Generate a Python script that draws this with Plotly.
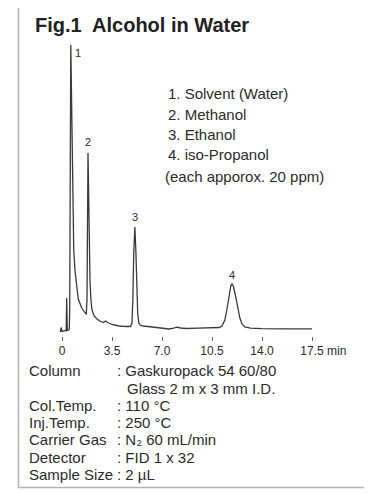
import plotly.graph_objects as go

# ---------------- data ----------------
time_min = [-0.12, -0.06, 0.00, 0.15, 0.29, 0.33, 0.37, 0.45, 0.51, 0.54, 0.57, 0.60, 0.615,
            0.65, 0.70, 0.75, 0.82, 0.91, 0.98, 1.14, 1.38, 1.60, 1.70, 1.75, 1.78, 1.82,
            1.86, 1.91, 1.96, 2.03, 2.10, 2.25, 2.45, 2.70, 2.90, 3.05, 3.20, 3.50, 4.00,
            4.50, 4.80, 4.90, 4.96, 5.02, 5.10, 5.17, 5.23, 5.30, 5.38, 5.50, 5.70, 6.00,
            6.50, 7.00, 7.50, 7.80, 8.05, 8.30, 8.70, 9.50, 10.50, 11.00, 11.20, 11.40,
            11.55, 11.70, 11.82, 11.90, 12.00, 12.15, 12.30, 12.45, 12.60, 12.80, 13.20,
            14.00, 15.50, 17.50]
signal = [-3, 1.5, -2.5, -2, -1.5, 31, -1.5, -1, 0, 20, 150, 268, 284,
          250, 189, 122, 80, 58, 48, 30, 21, 16, 14.5, 30, 120, 176,
          140, 80, 48, 28, 19, 13, 10, 7.5, 6.5, 8, 6.5, 4.5, 3,
          2.5, 2.5, 6, 30, 75, 102, 78, 42, 16, 6, 3.5, 3, 2.5,
          1.5, 0.5, 0, 0.8, 1.8, 1, 0.5, 0.8, 1, 1.5, 3, 9,
          20, 35, 43.5, 45, 42.5, 33, 21, 11, 5, 2, 0.8,
          0.3, 0.2, 0.2]

tick_vals = [0, 3.5, 7.0, 10.5, 14.0, 17.5]
tick_text = ["0", "3.5", "7.0", "10.5", "14.0", "17.5"]
axis_unit = "min"

peak_numbers = ["1", "2", "3", "4"]
peak_times = [0.615, 1.82, 5.10, 11.90]
peak_heights = [284, 176, 102, 45]

title_text = "Fig.1  Alcohol in Water"
legend_lines = ["1. Solvent (Water)", "2. Methanol", "3. Ethanol", "4. iso-Propanol",
                "(each apporox. 20 ppm)"]
cond_labels = ["Column", "", "Col.Temp.", "Inj.Temp.", "Carrier Gas", "Detector", "Sample Size"]
cond_values = [": Gaskuropack 54 60/80", "Glass 2 m x 3 mm I.D.", ": 110 °C", ": 250 °C",
               ": N₂ 60 mL/min", ": FID 1 x 32", ": 2 µL"]

# ---------------- layout geometry (screen pixels) ----------------
OFF = 8  # page body margin
W, H = 372 - OFF, 494 - OFF
L, R, T, B = 58, 316, 40, 336  # plot area in screen pixels


def px(x):
    return (x - L) / (R - L)


def py(y):
    return (B - y) / (B - T)


FONT = "Liberation Sans, Arial, sans-serif"
TXT = "#2b2b2b"

fig = go.Figure()
fig.add_trace(go.Scatter(x=time_min, y=signal, mode="lines",
                         line=dict(color="#3a3a3a", width=1.3), hoverinfo="skip"))

ann = []
ann.append(dict(text="<b>" + title_text + "</b>", x=px(33), y=py(25), xref="paper", yref="paper",
                xanchor="left", yanchor="middle", showarrow=False,
                font=dict(family=FONT, size=20, color="#222")))
leg_y = [93, 114, 134, 154, 176]
leg_x = [166, 166, 166, 166, 163]
for t, xx, yy in zip(legend_lines, leg_x, leg_y):
    ann.append(dict(text=t, x=px(xx), y=py(yy), xref="paper", yref="paper",
                    xanchor="left", yanchor="middle", showarrow=False,
                    font=dict(family=FONT, size=15, color=TXT)))
shifts = [(7, -8), (0, 11), (0, 10), (0, 9)]
for n, tt, hh, (dx, dy) in zip(peak_numbers, peak_times, peak_heights, shifts):
    ann.append(dict(text=n, x=tt, y=hh, xref="x", yref="y", xshift=dx, yshift=dy,
                    xanchor="center", yanchor="middle",
                    showarrow=False, font=dict(family=FONT, size=11, color=TXT)))
ann.append(dict(text=axis_unit, x=px(325), y=py(351), xref="paper", yref="paper",
                xanchor="left", yanchor="middle", showarrow=False,
                font=dict(family=FONT, size=12, color=TXT)))
row_y = [370, 388, 405, 422, 439, 457, 474]
for lab, val, yy in zip(cond_labels, cond_values, row_y):
    if lab:
        ann.append(dict(text=lab, x=px(27), y=py(yy), xref="paper", yref="paper",
                        xanchor="left", yanchor="middle", showarrow=False,
                        font=dict(family=FONT, size=15, color=TXT)))
    vx = 114.5 if val.startswith(":") else 125
    ann.append(dict(text=val, x=px(vx), y=py(yy), xref="paper", yref="paper",
                    xanchor="left", yanchor="middle", showarrow=False,
                    font=dict(family=FONT, size=15, color=TXT)))

shapes = [dict(type="rect", xref="paper", yref="paper", x0=px(18.5), x1=px(365.5),
               y0=py(487.5), y1=py(3.5), line=dict(color="#b4b4b4", width=1.5),
               fillcolor="rgba(0,0,0,0)", layer="below")]

xr0 = (L - 62) / (250 / 17.5)
xr1 = (R - 62) / (250 / 17.5)

fig.update_layout(
    width=W, height=H,
    margin=dict(l=L - OFF, r=W - (R - OFF), t=T - OFF, b=H - (B - OFF), pad=0),
    paper_bgcolor="white", plot_bgcolor="white", showlegend=False,
    annotations=ann, shapes=shapes,
    xaxis=dict(range=[xr0, xr1], tickvals=tick_vals, ticktext=tick_text,
               ticks="outside", ticklen=4, tickwidth=1, tickcolor="#666",
               showgrid=False, zeroline=False, showline=False,
               tickfont=dict(family=FONT, size=12, color=TXT), fixedrange=True),
    yaxis=dict(range=[-7, 289], visible=False, showgrid=False, zeroline=False, fixedrange=True),
)

fig.write_html("out.html")
